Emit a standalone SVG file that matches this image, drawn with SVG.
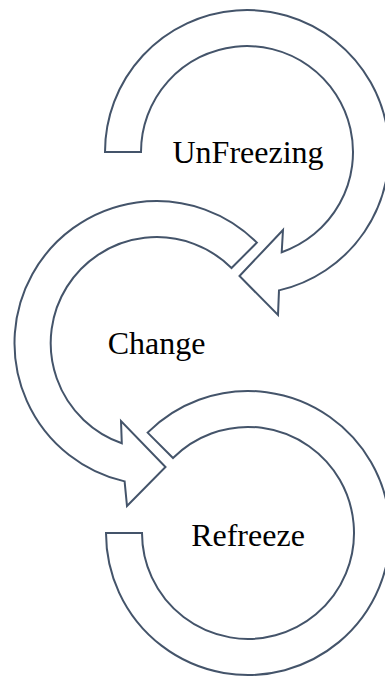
<svg xmlns="http://www.w3.org/2000/svg" width="385" height="677" viewBox="0 0 385 677">
<style>
.arr{fill:#ffffff;stroke:#44546a;stroke-width:2;stroke-linejoin:miter}
.lbl{font-family:"Liberation Serif","Times New Roman",serif;font-size:32px;fill:#000000;text-anchor:middle}
</style>
<rect width="385" height="677" fill="#ffffff"/>
<g id="unfreezing">
<path class="arr" d="M105,152 A142,142 0 1 1 279,290.4 L278,315 L239.5,276 L283,230 L281.7,252.2 A106,106 0 1 0 141,152 Z"/>
<text class="lbl" x="248" y="163">UnFreezing</text>
</g>
<g id="change">
<path class="arr" d="M256.9,242.6 A142,142 0 1 0 124.6,481.4 L127,506 L165.5,467 L121,421 L121.8,443.2 A106,106 0 1 1 231.5,268 Z"/>
<text class="lbl" x="156.5" y="354">Change</text>
</g>
<g id="refreeze">
<path class="arr" d="M147.6,432.6 A142,142 0 1 1 106,533 L142,533 A106,106 0 1 0 173,458 Z"/>
<text class="lbl" x="248" y="546">Refreeze</text>
</g>
<g id="connectors"></g>
</svg>
